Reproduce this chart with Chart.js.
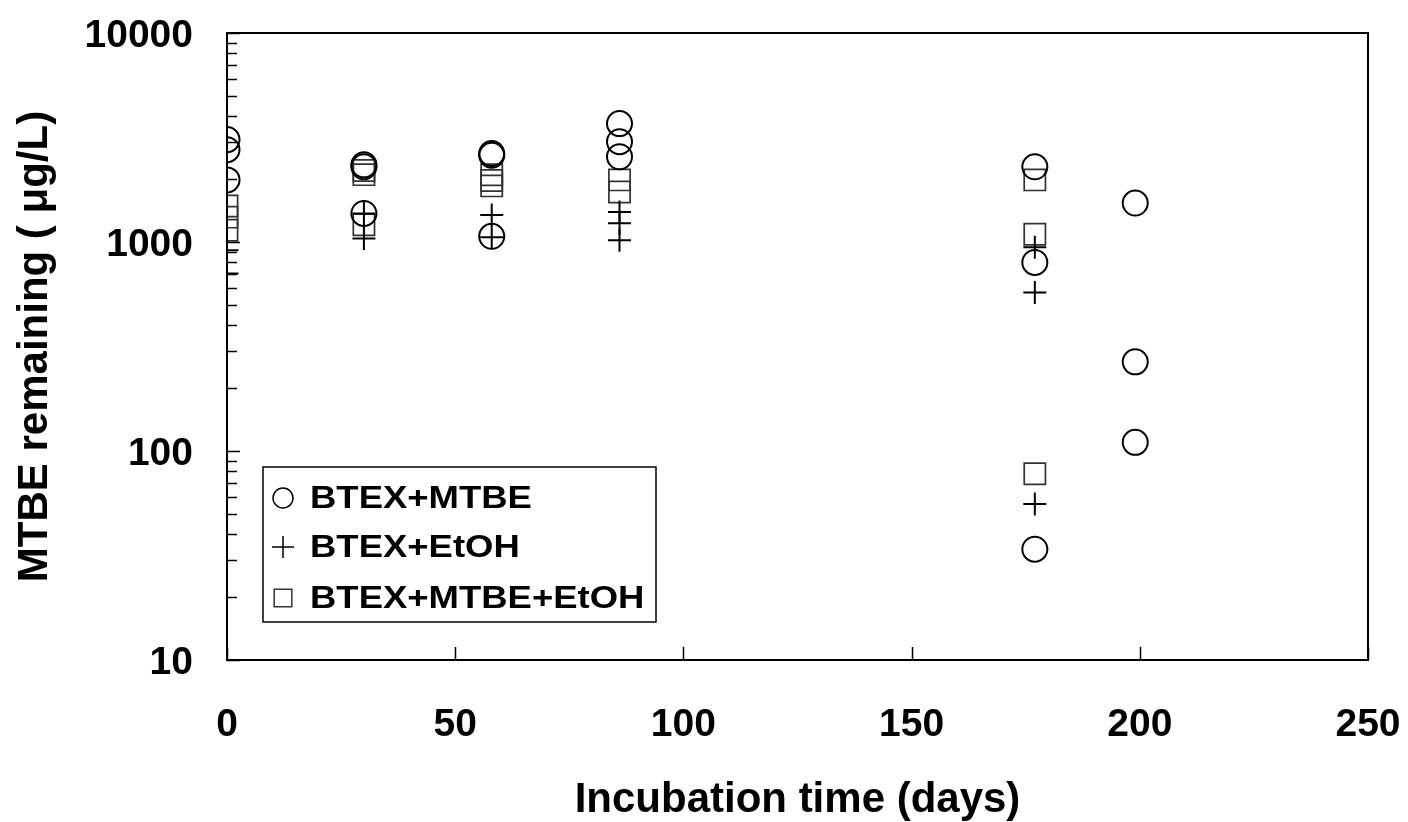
<!DOCTYPE html>
<html>
<head>
<meta charset="utf-8">
<script src="https://cdn.jsdelivr.net/npm/chart.js@4"></script>
<style>
  body { margin: 0; background: #fff; }
  #wrap { width: 1408px; height: 822px; }
</style>
</head>
<body>
<div id="wrap"><canvas id="chart" width="1408" height="822"></canvas></div>
<script>
// --- DATA ---
const seriesNames = ['BTEX+MTBE', 'BTEX+EtOH', 'BTEX+MTBE+EtOH'];

const mtbeDays   = [0, 0, 0, 30, 30, 30, 58, 58, 58, 86, 86, 86, 177, 177, 177, 199, 199, 199];
const mtbeValues = [3090, 2765, 1982, 2340, 2290, 1370, 2650, 2600, 1065, 3686, 3020, 2558, 2290, 798, 33.9, 1536, 267, 110];

const etohDays   = [0, 0, 30, 30, 58, 58, 86, 86, 86, 177, 177, 177];
const etohValues = [912, 707, 1370, 1040, 1345, 1055, 1390, 1230, 1019, 943, 573, 55.8];

const mixDays    = [0, 0, 0, 30, 30, 30, 58, 58, 58, 86, 86, 177, 177, 177];
const mixValues  = [1486, 1315, 1138, 2200, 2100, 1210, 2096, 1970, 1855, 1982, 1735, 1982, 1089, 77.8];

const xTickLabels = [0, 50, 100, 150, 200, 250];
const yTickLabels = [10, 100, 1000, 10000];

const FONT = 'Arial, "Liberation Sans", Helvetica, sans-serif';

function toPoints(days, values) {
    return days.map((d, i) => ({ x: d, y: values[i] }));
}

// all log ticks: majors plus 2..9 in each decade
const yAllTicks = [];
yTickLabels.forEach((v, i) => {
    yAllTicks.push(v);
    if (i < yTickLabels.length - 1) {
        for (let k = 2; k <= 9; k++) yAllTicks.push(v * k);
    }
});

// frame + inward tick marks
const frameTicks = {
    id: 'frameTicks',
    afterDatasetsDraw(chart) {
        const { ctx, chartArea: a, scales } = chart;
        ctx.save();
        ctx.strokeStyle = '#000';
        ctx.lineWidth = 1.5;
        ctx.beginPath();
        scales.y.ticks.forEach(t => {
            const py = Math.round(scales.y.getPixelForValue(t.value)) + 0.5;
            const len = yTickLabels.includes(t.value) ? 13 : 10;
            ctx.moveTo(a.left, py);
            ctx.lineTo(a.left + len, py);
        });
        scales.x.ticks.forEach(t => {
            const px = Math.round(scales.x.getPixelForValue(t.value)) + 0.5;
            ctx.moveTo(px, a.bottom);
            ctx.lineTo(px, a.bottom - 13);
        });
        ctx.stroke();
        ctx.lineWidth = 2;
        ctx.strokeRect(a.left, a.top, a.right - a.left, a.bottom - a.top);
        ctx.restore();
    }
};

// legend box sitting inside the plot
const insideLegend = {
    id: 'insideLegend',
    afterDraw(chart) {
        const { ctx, chartArea: a } = chart;
        const left = a.left + 36, top = a.top + 434, w = 393, h = 155;
        ctx.save();
        ctx.fillStyle = '#fff';
        ctx.fillRect(left, top, w, h);
        ctx.strokeStyle = '#000';
        ctx.lineWidth = 1.5;
        ctx.strokeRect(left, top, w, h);
        const rowY = [top + 31, top + 80, top + 131];
        const legendRadius = [10, 11, 12.5];
        chart.data.datasets.forEach((ds, i) => {
            ctx.strokeStyle = ds.borderColor;
            ctx.fillStyle = 'rgba(0,0,0,0)';
            ctx.lineWidth = 1.5;
            Chart.helpers.drawPoint(ctx, {
                pointStyle: ds.pointStyle, radius: legendRadius[i], rotation: 0, borderWidth: 1.5
            }, left + 20, rowY[i]);
            ctx.save();
            ctx.translate(left + 47, rowY[i]);
            ctx.scale(1.14, 1);
            ctx.fillStyle = '#000';
            ctx.font = 'bold 32px ' + FONT;
            ctx.textBaseline = 'middle';
            ctx.fillText(ds.label, 0, 1);
            ctx.restore();
        });
        ctx.restore();
    }
};

const ctx = document.getElementById('chart').getContext('2d');
new Chart(ctx, {
    type: 'scatter',
    data: {
        datasets: [
            {
                label: seriesNames[0],
                data: toPoints(mtbeDays, mtbeValues),
                pointStyle: 'circle',
                pointRadius: 12.5,
                borderColor: '#000',
                backgroundColor: 'rgba(0,0,0,0)',
                borderWidth: 2
            },
            {
                label: seriesNames[1],
                data: toPoints(etohDays, etohValues),
                pointStyle: 'cross',
                pointRadius: 11.5,
                borderColor: '#000',
                backgroundColor: 'rgba(0,0,0,0)',
                borderWidth: 2
            },
            {
                label: seriesNames[2],
                data: toPoints(mixDays, mixValues),
                pointStyle: 'rect',
                pointRadius: 15,
                borderColor: '#333',
                backgroundColor: 'rgba(0,0,0,0)',
                borderWidth: 1.7
            }
        ]
    },
    options: {
        responsive: false,
        animation: false,
        devicePixelRatio: 1,
        layout: { padding: { top: 33, right: 40, left: 0, bottom: 0 } },
        plugins: {
            legend: { display: false },
            tooltip: { enabled: false }
        },
        scales: {
            x: {
                type: 'linear',
                min: 0,
                max: 250,
                afterBuildTicks: s => { s.ticks = xTickLabels.map(v => ({ value: v })); },
                afterFit: s => { s.height = 162; },
                // grid hidden; tickLength only pushes the labels away from the axis
                grid: { display: false, drawTicks: true, tickLength: 42 },
                border: { display: false },
                ticks: {
                    padding: 0,
                    color: '#000',
                    font: { family: FONT, size: 39, weight: 'bold' }
                },
                title: {
                    display: true,
                    text: 'Incubation time (days)',
                    color: '#000',
                    padding: { top: 0, bottom: 1 },
                    font: { family: FONT, size: 42, weight: 'bold', lineHeight: 1 }
                }
            },
            y: {
                type: 'logarithmic',
                min: 10,
                max: 10000,
                afterBuildTicks: s => { s.ticks = yAllTicks.map(v => ({ value: v })); },
                afterFit: s => { s.width = 227; },
                grid: { display: false, drawTicks: true, tickLength: 34 },
                border: { display: false },
                ticks: {
                    autoSkip: false,
                    padding: 0,
                    labelOffset: 3,
                    color: '#000',
                    font: { family: FONT, size: 39, weight: 'bold' },
                    callback: v => yTickLabels.includes(v) ? String(v) : ''
                },
                title: {
                    display: true,
                    text: 'MTBE remaining ( \u03bcg/L)',
                    color: '#000',
                    padding: { top: 14, bottom: 0 },
                    font: { family: FONT, size: 42, weight: 'bold', lineHeight: 1 }
                }
            }
        }
    },
    plugins: [frameTicks, insideLegend]
});
</script>
</body>
</html>
